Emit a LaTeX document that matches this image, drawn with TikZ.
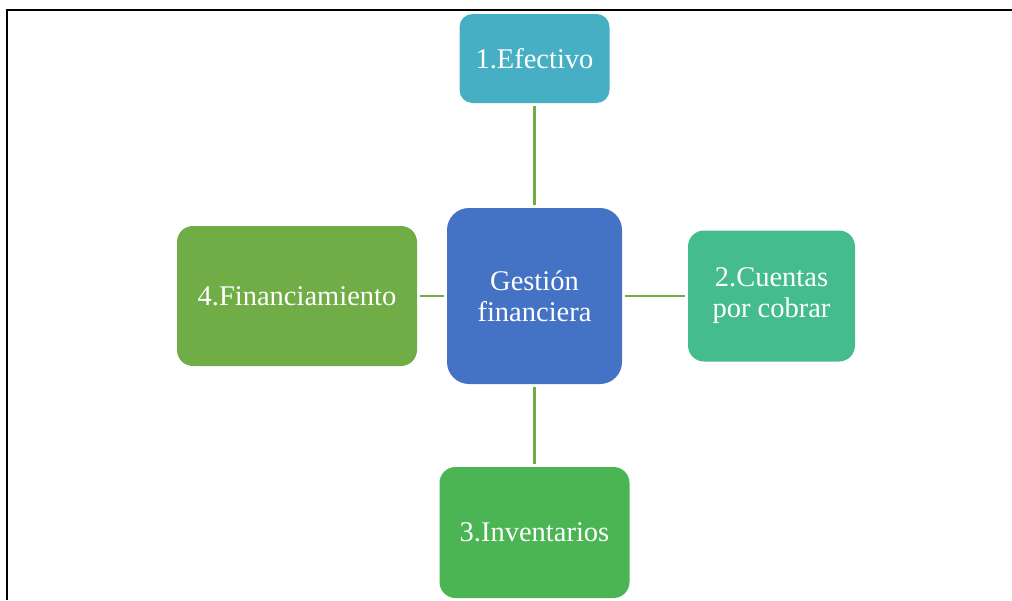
\documentclass[tikz,border=0pt]{standalone}
\usepackage{fontspec}
\setmainfont{Liberation Serif}
\usepackage{xcolor}
\definecolor{azulgestion}{HTML}{4472C4}
\definecolor{turquesa}{HTML}{46AFC3}
\definecolor{verdeagua}{HTML}{45BC8D}
\definecolor{verdemedio}{HTML}{4BB553}
\definecolor{verdeoliva}{HTML}{70AD47}

\begin{document}
\begin{tikzpicture}[x=1pt, y=-1pt, text=white, align=center, font=\fontsize{28.5}{31}\selectfont]
	\tikzstyle{bloque}=[rounded corners=16pt, inner sep=2pt]
	\tikzstyle{enlace}=[draw=verdeoliva, line width=2.5pt, shorten <=3pt, shorten >=3pt]

	\useasboundingbox (0,0) rectangle (1012,600);
	\draw[line width=2.5pt] (7,600) -- (7,10) -- (1012,10);

	\node[bloque, fill=azulgestion, minimum width=175pt, minimum height=176pt, rounded corners=22pt](gestion) at (534.5,296){Gestión\\financiera};
	\node[bloque, fill=turquesa, minimum width=150pt, minimum height=89pt, rounded corners=13pt](efectivo) at (534.5,58.5){1.Efectivo};
	\node[bloque, fill=verdeagua, minimum width=167pt, minimum height=131pt](cuentas) at (771.5,296){2.Cuentas\\por cobrar};
	\node[bloque, fill=verdemedio, minimum width=190pt, minimum height=131pt](inventarios) at (534.5,532.5){3.Inventarios};
	\node[bloque, fill=verdeoliva, minimum width=240pt, minimum height=140pt](financiamiento) at (297,296){4.Financiamiento};

	\draw[enlace] (gestion) -- (efectivo);
	\draw[enlace] (gestion) -- (cuentas);
	\draw[enlace] (gestion) -- (inventarios);
	\draw[enlace] (gestion) -- (financiamiento);
\end{tikzpicture}
\end{document}
